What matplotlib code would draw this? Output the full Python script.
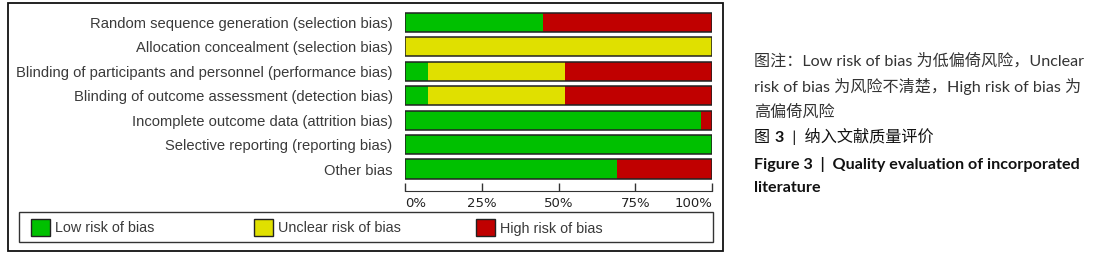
import numpy as np
import matplotlib
matplotlib.use("Agg")
import matplotlib.pyplot as plt
from matplotlib.patches import Rectangle

# risk of bias summary (percent of studies)
domains = [
    "Random sequence generation (selection bias)",
    "Allocation concealment (selection bias)",
    "Blinding of participants and personnel (performance bias)",
    "Blinding of outcome assessment (detection bias)",
    "Incomplete outcome data (attrition bias)",
    "Selective reporting (reporting bias)",
    "Other bias",
]
low = [45, 0, 7.5, 7.5, 96.5, 100, 69]
unclear = [0, 100, 44.5, 44.5, 0, 0, 0]
high = [55, 0, 48, 48, 3.5, 0, 31]

legend_labels = ["Low risk of bias", "Unclear risk of bias", "High risk of bias"]
colors = ["#00c000", "#e0e000", "#c00000"]
xticks = [0, 25, 50, 75, 100]
xticklabels = ["0%", "25%", "50%", "75%", "100%"]

note_lines = [
    "图注：Low risk of bias 为低偏倚风险，Unclear",
    "risk of bias 为风险不清楚，High risk of bias 为",
    "高偏倚风险",
]
caption_cn = ["图 ", "3", "  |  纳入文献质量评价"]
caption_en = ["Figure 3  |  Quality evaluation of incorporated", "literature"]

W, H = 1100, 260
fig = plt.figure(figsize=(W / 100, H / 100), dpi=100)


def fx(px):
    return px / W


def fy(py):
    return 1 - py / H


# outer frame
fig.patches.append(Rectangle((fx(8), fy(251)), fx(723 - 8), (251 - 3) / H,
                             transform=fig.transFigure, fill=False,
                             edgecolor="#111111", linewidth=1.3))

ax = fig.add_axes([fx(405), fy(191), fx(712 - 405), (191 - 10) / H])
y = np.arange(len(domains))
h = 0.78
left = np.zeros(len(domains))
for vals, c in zip([low, unclear, high], colors):
    vals = np.array(vals, dtype=float)
    ax.barh(y, vals, left=left, height=h, color=c, edgecolor="none")
    left += vals
# outline around each full bar
ax.barh(y, left, height=h, fill=False, edgecolor="#222222", linewidth=1.1)

ax.set_xlim(0, 100)
ax.set_ylim(len(domains) - 1 + 0.9, -0.51)
ax.set_yticks(y)
ax.set_yticklabels(domains, fontsize=10.6, color="#3a3a3a",
                   family=["Liberation Sans", "DejaVu Sans"])
ax.tick_params(axis="y", length=0, pad=9)
ax.set_xticks(xticks)
ax.set_xticklabels(xticklabels, fontsize=9.5, color="#222222")
ax.tick_params(axis="x", direction="in", length=6, width=1, color="#333333", pad=4)
xl = ax.get_xticklabels()
xl[0].set_ha("left")
xl[-1].set_ha("right")
for s in ["top", "right", "left"]:
    ax.spines[s].set_visible(False)
ax.spines["bottom"].set_color("#333333")
ax.patch.set_alpha(0)

# legend box
fig.patches.append(Rectangle((fx(19), fy(242)), fx(713 - 19), (242 - 212) / H,
                             transform=fig.transFigure, fill=False,
                             edgecolor="#333333", linewidth=1))
leg_x = [31, 254, 476]
for lx, lab, c in zip(leg_x, legend_labels, colors):
    fig.patches.append(Rectangle((fx(lx), fy(236)), fx(19), 17 / H,
                                 transform=fig.transFigure, facecolor=c,
                                 edgecolor="#222222", linewidth=1))
    fig.text(fx(lx + 24), fy(228.5), lab, fontsize=10.4, color="#3a3a3a",
             va="center", ha="left", family=["Liberation Sans", "DejaVu Sans"])

# right side caption text
fam = ["Lato", "Noto Sans CJK SC"]
fs = 11.6
for i, line in enumerate(note_lines):
    fig.text(fx(754), fy(61 + 25.5 * i), line, fontsize=fs, color="#333333",
             va="center", ha="left", family=fam)

# chinese caption: "3" in bold, chained after the previous piece
a1 = fig.text(fx(754), fy(138), caption_cn[0], fontsize=fs, color="#111111",
              va="center", ha="left", family=fam)
a2 = ax.annotate(caption_cn[1], xy=(1, 0), xycoords=a1, va="bottom", ha="left",
                 fontsize=fs, color="#111111", weight="bold", family=fam,
                 annotation_clip=False)
a3 = ax.annotate(caption_cn[2], xy=(1, 0), xycoords=a2, va="bottom", ha="left",
                 fontsize=fs, color="#111111", family=fam,
                 annotation_clip=False)

for i, line in enumerate(caption_en):
    fig.text(fx(754), fy(164 + 24.5 * i), line, fontsize=fs, color="#111111",
             weight="bold", va="center", ha="left", family=fam)

fig.savefig("out.png", dpi=100)
